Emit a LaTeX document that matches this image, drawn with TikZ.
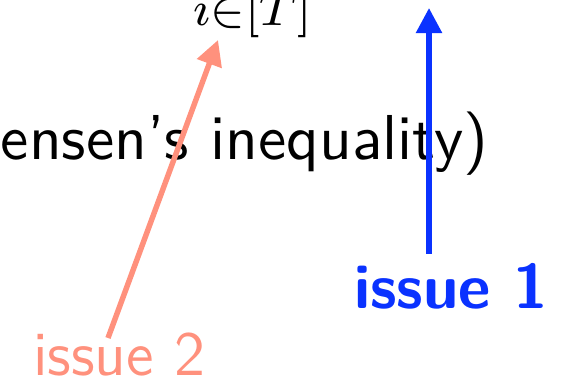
\documentclass[tikz,border=0pt]{standalone}
\usepackage{graphicx}
\usepackage{fontspec}
\usetikzlibrary{arrows.meta}
\definecolor{issueblue}{RGB}{10,50,255}
\definecolor{issuesalmon}{RGB}{255,145,125}
\tikzset{
  lbl/.style={inner sep=0pt, outer sep=0pt, font=\fontsize{11}{13}\selectfont\sffamily},
  mainlbl/.style={inner sep=0pt, outer sep=0pt, font=\fontsize{10.95}{13}\selectfont\sffamily},
  arrowone/.style={draw=issueblue, line width=0.95pt, -{Triangle[length=4.4pt,width=4.4pt]}},
  arrowtwo/.style={draw=issuesalmon, line width=0.95pt, -{Triangle[length=4.4pt,width=4.4pt]}}
}
\begin{document}
\begin{tikzpicture}[x=0.1746pt, y=-0.1746pt]
\useasboundingbox (0,0) rectangle (562,385);
\clip (0,0) rectangle (562,385);
\node[lbl, anchor=base west] (sub) at (193,26) {\scalebox{1.067}{$\scriptstyle i\in[T]$}};
\node[mainlbl, anchor=base east] (main) at (488,160) {\scalebox{1.012}{ensen’s inequality)}};
\node[lbl, anchor=base west, text=issuesalmon] (iss2) at (33,375) {issue 2};
\node[lbl, anchor=base west, text=issueblue, font=\fontsize{11}{13}\selectfont\sffamily\bfseries] (iss1) at (354,309) {issue 1};
\coordinate (t1) at (429,8);
\coordinate (s2) at (108,338);
\coordinate (t2) at (218,40);
\draw[arrowone] (iss1.north -| t1) ++(0,-10) -- (t1);
\draw[arrowtwo] (s2) -- (t2);
\end{tikzpicture}
\end{document}
